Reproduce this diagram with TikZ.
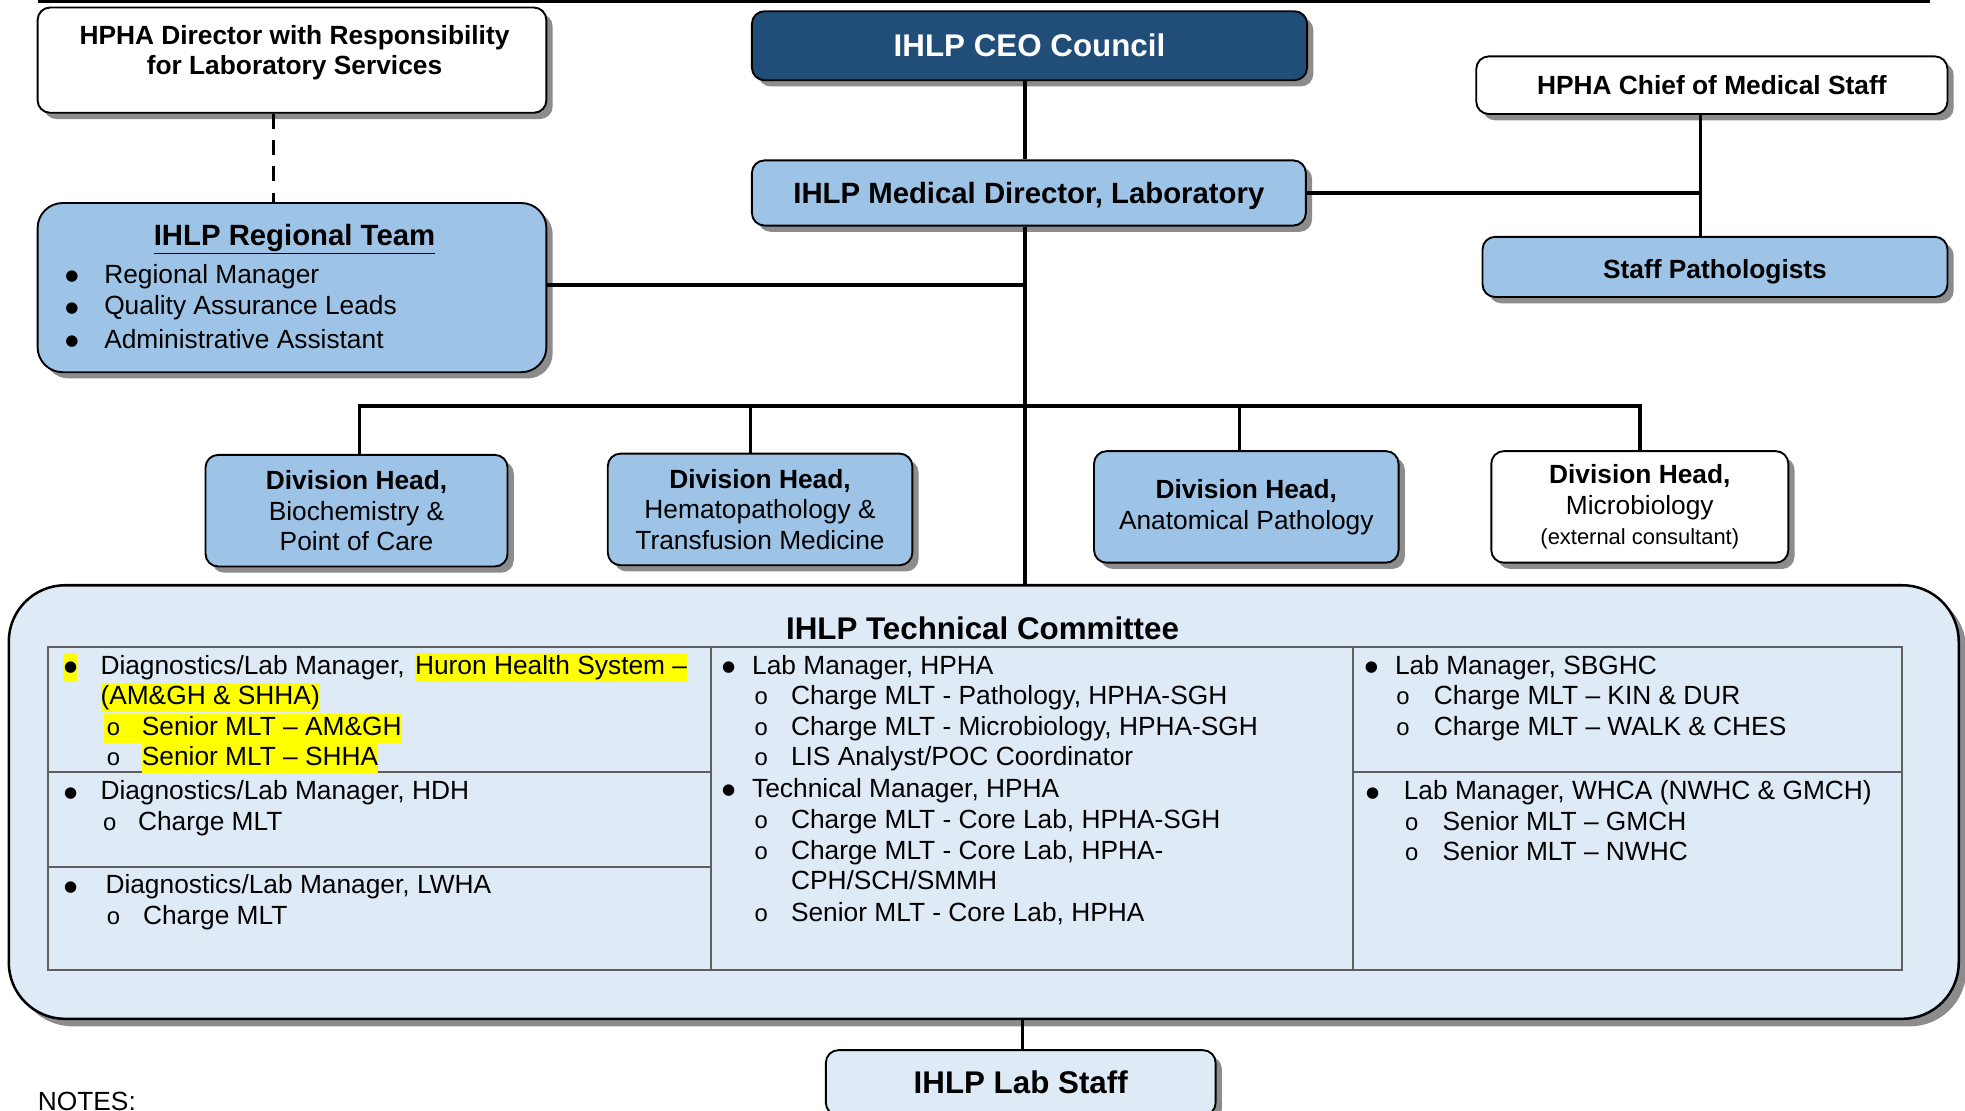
\documentclass[tikz,border=0pt]{standalone}
\usepackage{fontspec}
\setmainfont{Liberation Sans}
\newfontfamily\dejavu{DejaVu Sans}
\usetikzlibrary{shadows}
\definecolor{dkblue}{RGB}{33,78,120}
\definecolor{ltblue}{RGB}{157,195,230}
\definecolor{paleblue}{RGB}{222,234,246}
\definecolor{tblgray}{RGB}{95,95,95}
\definecolor{hly}{RGB}{255,255,0}
\newcommand\subb{{\fontsize{19}{19}\selectfont o}}
\newcommand\bul{{\dejavu\fontsize{12}{12}\selectfont\raisebox{2pt}{●}}}
\begin{document}
\begin{tikzpicture}[x=1pt,y=-1pt,
  box/.style={draw=black, line width=1.5pt, rounded corners=10pt,
    drop shadow={shadow xshift=5pt, shadow yshift=-5pt, fill=black!45, opacity=1},
    inner sep=0pt, align=center, font=\fontsize{21}{24.5}\selectfont},
  conn/.style={line width=2.7pt, black},
  tx/.style={anchor=base west, inner sep=0pt, font=\fontsize{21}{24.5}\selectfont},
  hl/.style={tx, fill=hly, text height=17pt, text depth=6pt},
  bt/.style={align=center, inner sep=0pt, font=\fontsize{21}{24.5}\selectfont},
  tbl/.style={draw=tblgray, line width=1.6pt}]
\useasboundingbox (0,0) rectangle (1568,886);
\draw[line width=3pt] (30,1) -- (1540,1);

% top boxes
\node[box, fill=white, minimum width=406pt, minimum height=84pt] (dir) at (233,48) {};
\node[bt, font=\bfseries\fontsize{21}{24}\selectfont] (dirtext) at (235,42) {HPHA Director with Responsibility\\for Laboratory Services};
\node[box, fill=dkblue, minimum width=443pt, minimum height=55pt, text=white, font=\bfseries\fontsize{25}{30}\selectfont] (ceo) at (821.5,36.5) {IHLP CEO Council};
\node[box, fill=white, minimum width=376pt, minimum height=46pt, font=\bfseries\fontsize{21}{24.5}\selectfont] (chief) at (1366,68) {HPHA Chief of Medical Staff};
\node[box, fill=ltblue, minimum width=442pt, minimum height=52pt, font=\bfseries\fontsize{23.4}{28}\selectfont, text height=21pt, text depth=4.6pt] (md) at (821,154) {IHLP Medical Director, Laboratory};
\node[box, fill=ltblue, minimum width=371pt, minimum height=48pt, font=\bfseries\fontsize{21}{24.5}\selectfont, text height=22pt, text depth=3.2pt] (sp) at (1368.5,213) {Staff Pathologists};

% regional team
\node[box, fill=ltblue, rounded corners=20pt, minimum width=406pt, minimum height=135pt] (rt) at (233,229.5) {};
\node[bt, font=\bfseries\fontsize{23.4}{28}\selectfont] (rttitle) at (235,191) {\underline{IHLP Regional Team}};
\node[tx] (rtb1) at (52,226) {\bul};
\node[tx] (rtl1) at (83,226) {Regional Manager};
\node[tx] (rtb2) at (52,251) {\bul};
\node[tx] (rtl2) at (83,251) {Quality Assurance Leads};
\node[tx] (rtb3) at (52,278) {\bul};
\node[tx] (rtl3) at (83,278) {Administrative Assistant};

% division heads
\node[box, fill=ltblue, minimum width=241pt, minimum height=89pt] (d1) at (284.5,407.5) {\textbf{Division Head,}\\Biochemistry \&\\Point of Care};
\node[box, fill=ltblue, minimum width=243pt, minimum height=89pt] (d2) at (606.5,406.5) {\textbf{Division Head,}\\Hematopathology \&\\Transfusion Medicine};
\node[box, fill=ltblue, minimum width=243pt, minimum height=89pt] (d3) at (994.5,404.5) {\textbf{Division Head,}\\Anatomical Pathology};
\node[box, fill=white, minimum width=237pt, minimum height=89pt] (d4) at (1308.5,404.5) {\textbf{Division Head,}\\Microbiology\\{\fontsize{17.5}{20}\selectfont (external consultant)}};

% technical committee
\node[box, fill=paleblue, rounded corners=45pt, line width=2pt, minimum width=1556pt, minimum height=346pt,
  drop shadow={shadow xshift=6pt, shadow yshift=-6pt, fill=black!45, opacity=1}] (tc) at (785,640) {};
\node[bt, font=\bfseries\fontsize{25}{30}\selectfont] (tctitle) at (784,501) {IHLP Technical Committee};
\draw[tbl] (38,516) rectangle (1518,774);
\draw[tbl] (567,516) -- (567,774);
\draw[tbl] (1080,516) -- (1080,774);
\draw[tbl] (38,616) -- (567,616);
\draw[tbl] (38,692) -- (567,692);
\draw[tbl] (1080,616) -- (1518,616);

% left column
\node[hl] (a1b) at (50,538) {\hspace{1pt}\bul\hspace{2pt}};
\node[tx] (a1) at (80,538) {Diagnostics/Lab Manager,};
\node[hl] (a1h) at (331,538) {Huron Health System –};
\node[hl] (a2) at (80,562) {(AM\&GH \& SHHA)};
\node[hl] (a3) at (83,587) {\hspace{2pt}\makebox[28pt][l]{\subb}Senior MLT – AM\&GH};
\node[tx] (a4b) at (85,611) {\subb};
\node[hl] (a4) at (113,611) {Senior MLT – SHHA};
\node[tx] (b1b) at (51,638) {\bul};
\node[tx] (b1) at (80,638) {Diagnostics/Lab Manager, HDH};
\node[tx] (b2b) at (82,663) {\subb};
\node[tx] (b2) at (110,663) {Charge MLT};
\node[tx] (c1b) at (51,713) {\bul};
\node[tx] (c1) at (84,713) {Diagnostics/Lab Manager, LWHA};
\node[tx] (c2b) at (85,738) {\subb};
\node[tx] (c2) at (114,738) {Charge MLT};

% middle column
\node[tx] (m1b) at (576,538) {\bul};
\node[tx] (m1) at (600,538) {Lab Manager, HPHA};
\node[tx] (m2b) at (602,562) {\subb};
\node[tx] (m2) at (631,562) {Charge MLT - Pathology, HPHA-SGH};
\node[tx] (m3b) at (602,587) {\subb};
\node[tx] (m3) at (631,587) {Charge MLT - Microbiology, HPHA-SGH};
\node[tx] (m4b) at (602,611) {\subb};
\node[tx] (m4) at (631,611) {LIS Analyst/POC Coordinator};
\node[tx] (m5b) at (576,636) {\bul};
\node[tx] (m5) at (600,636) {Technical Manager, HPHA};
\node[tx] (m6b) at (602,661) {\subb};
\node[tx] (m6) at (631,661) {Charge MLT - Core Lab, HPHA-SGH};
\node[tx] (m7b) at (602,686) {\subb};
\node[tx] (m7) at (631,686) {Charge MLT - Core Lab, HPHA-};
\node[tx] (m8) at (631,710) {CPH/SCH/SMMH};
\node[tx] (m9b) at (602,735) {\subb};
\node[tx] (m9) at (631,735) {Senior MLT - Core Lab, HPHA};

% right column
\node[tx] (r1b) at (1089,538) {\bul};
\node[tx] (r1) at (1113,538) {Lab Manager, SBGHC};
\node[tx] (r2b) at (1114,562) {\subb};
\node[tx] (r2) at (1144,562) {Charge MLT – KIN \& DUR};
\node[tx] (r3b) at (1114,587) {\subb};
\node[tx] (r3) at (1144,587) {Charge MLT – WALK \& CHES};
\node[tx] (s1b) at (1090,638) {\bul};
\node[tx] (s1) at (1120,638) {Lab Manager, WHCA (NWHC \& GMCH)};
\node[tx] (s2b) at (1121,663) {\subb};
\node[tx] (s2) at (1151,663) {Senior MLT – GMCH};
\node[tx] (s3b) at (1121,687) {\subb};
\node[tx] (s3) at (1151,687) {Senior MLT – NWHC};

% lab staff
\node[box, fill=paleblue, minimum width=311pt, minimum height=52pt, font=\bfseries\fontsize{25}{30}\selectfont] (staff) at (814.5,864) {IHLP Lab Staff};
\node[tx] (notes) at (30,886) {NOTES:};

% connectors
\coordinate (bus) at (818,324);
\coordinate (cj) at ([xshift=-9pt]chief.south);
\draw[conn, dash pattern=on 12pt off 9pt] ([xshift=-15pt]dir.south) -- ([xshift=-15pt]dir.south |- rt.north);
\draw[conn] ([xshift=-3.5pt]ceo.south) -- ([xshift=-3pt]md.north);
\draw[conn] ([xshift=-3pt]md.south) -- ([xshift=-3pt]md.south |- tc.north);
\draw[conn] ([yshift=2pt]rt.east) -- ([yshift=2pt]rt.east -| bus);
\draw[conn] (md.east) -- (md.east -| cj);
\draw[conn] (cj) -- (cj |- sp.north);
\draw[conn] ([xshift=2.5pt]d1.north) -- ([xshift=2.5pt]d1.north |- bus) -- (d4.north |- bus) -- (d4.north);
\draw[conn] ([xshift=-7.5pt]d2.north) -- ([xshift=-7.5pt]d2.north |- bus);
\draw[conn] ([xshift=-5.5pt]d3.north) -- ([xshift=-5.5pt]d3.north |- bus);
\draw[conn] ([xshift=1.5pt]staff.north |- tc.south) -- ([xshift=1.5pt]staff.north);
\end{tikzpicture}
\end{document}
